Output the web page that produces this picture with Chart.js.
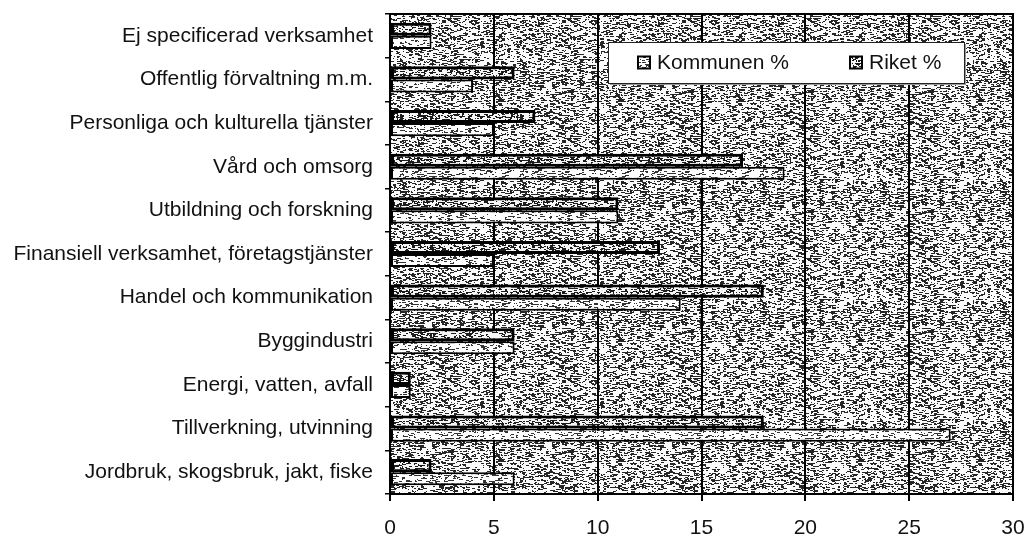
<!DOCTYPE html>
<html>
<head>
<meta charset="utf-8">
<script src="https://cdn.jsdelivr.net/npm/chart.js@4.4.1/dist/chart.umd.min.js"></script>
<style>
  html, body { margin:0; padding:0; background:#fff; }
  #wrap { width:1026px; height:536px; position:relative; }
</style>
</head>
<body>
<div id="wrap"><canvas id="chart"></canvas></div>
<script>
const categories = [
  'Ej specificerad verksamhet',
  'Offentlig förvaltning m.m.',
  'Personliga och kulturella tjänster',
  'Vård och omsorg',
  'Utbildning och forskning',
  'Finansiell verksamhet, företagstjänster',
  'Handel och kommunikation',
  'Byggindustri',
  'Energi, vatten, avfall',
  'Tillverkning, utvinning',
  'Jordbruk, skogsbruk, jakt, fiske'
];
const kommunenPct = [2, 4, 5, 19, 11, 5, 14, 6, 1, 27, 6];
const riketPct    = [2, 6, 7, 17, 11, 13, 18, 6, 1, 18, 2];
const xTicks = [0, 5, 10, 15, 20, 25, 30];

const FONT = "'Liberation Sans', Arial, sans-serif";
Chart.defaults.font.family = FONT;
Chart.defaults.color = '#111';

// speckled dash texture like the scanned print (deterministic hash, not data)
function makePattern(density, seed, dark, light){
  const S = 120;
  const c = document.createElement('canvas');
  c.width = S; c.height = S;
  const g = c.getContext('2d');
  g.fillStyle = light; g.fillRect(0,0,S,S);
  g.fillStyle = dark;
  for(let y=0;y<S;y++){
    for(let x=0;x<S;x+=3){
      let h = (x*374761393 + y*668265263 + seed*2246822519) >>> 0;
      h = Math.imul(h ^ (h >>> 13), 1274126177) >>> 0;
      h = (h ^ (h >>> 16)) >>> 0;
      if((h % 1000)/1000 < density){
        const len = 1 + (h >>> 11) % 4;
        g.fillRect(x + ((h >>> 5) % 2), y, len, 1);
      }
    }
  }
  return g.createPattern(c, 'repeat');
}

const ctx = document.getElementById('chart').getContext('2d');
const bgPattern = makePattern(0.47, 7, '#262626', '#fbfbfb');
const kommunenPattern = makePattern(0.28, 3, '#333', '#ffffff');
const riketPattern = makePattern(0.52, 11, '#1c1c1c', '#f6f6f6');

const plotBg = {
  id:'plotBg',
  beforeDraw(chart){
    const {ctx, chartArea:a} = chart;
    ctx.save();
    ctx.fillStyle = bgPattern;
    ctx.fillRect(a.left, a.top, a.right-a.left, a.bottom-a.top);
    ctx.restore();
  },
  afterDatasetsDraw(chart){
    const {ctx, chartArea:a} = chart;
    ctx.save();
    ctx.strokeStyle = '#000';
    ctx.lineWidth = 2;
    ctx.strokeRect(a.left, a.top, a.right-a.left, a.bottom-a.top);
    ctx.restore();
  }
};

const boxLegend = {
  id:'boxLegend',
  afterDraw(chart, args, opts){
    const {ctx} = chart;
    const x = opts.x, y = opts.y, w = opts.w, h = opts.h;
    ctx.save();
    ctx.fillStyle = '#999';
    ctx.fillRect(x+2, y+2, w, h);
    ctx.fillStyle = '#fff';
    ctx.fillRect(x, y, w, h);
    ctx.strokeStyle = '#222';
    ctx.lineWidth = 1;
    ctx.strokeRect(x+0.5, y+0.5, w, h);
    const items = [chart.data.datasets[1], chart.data.datasets[0]];
    ctx.font = "21px " + FONT;
    ctx.textBaseline = 'middle';
    items.forEach((ds, i) => {
      const ix = x + opts.itemX[i];
      const cy = y + h/2;
      ctx.fillStyle = ds.backgroundColor;
      ctx.fillRect(ix, cy-6, 12, 12);
      ctx.strokeStyle = '#000';
      ctx.lineWidth = 2;
      ctx.strokeRect(ix, cy-6, 12, 12);
      ctx.fillStyle = '#111';
      ctx.fillText(ds.label, ix + 19, cy + 1);
    });
    ctx.restore();
  }
};

new Chart(ctx, {
  type:'bar',
  data:{
    labels: categories,
    datasets:[
      { label:'Riket %', data:riketPct, backgroundColor:riketPattern, borderColor:'#000', borderWidth:3, borderSkipped:false },
      { label:'Kommunen %', data:kommunenPct, backgroundColor:kommunenPattern, borderColor:'#000', borderWidth:2, borderSkipped:false }
    ]
  },
  options:{
    indexAxis:'y',
    responsive:true,
    maintainAspectRatio:false,
    animation:false,
    layout:{ padding:{ top:14, right:13, left:0, bottom:0 } },
    datasets:{ bar:{ categoryPercentage:0.6, barPercentage:1.0 } },
    plugins:{
      legend:{ display:false },
      tooltip:{ enabled:false },
      boxLegend:{ x:608, y:42, w:356, h:41, itemX:[30, 242] }
    },
    scales:{
      x:{
        min:0, max:30,
        afterBuildTicks:(s) => { s.ticks = xTicks.map(v => ({ value:v })); },
        grid:{ color:'#000', lineWidth:2, drawTicks:true, tickLength:7, tickColor:'#000' },
        border:{ display:true, color:'#000', width:2 },
        ticks:{ font:{ size:21 }, color:'#111', padding:15, maxRotation:0 },
        afterFit:(s) => { s.height = 42; s.paddingLeft = 0; s.paddingRight = 0; }
      },
      y:{
        grid:{ drawOnChartArea:false, drawTicks:true, tickLength:5, color:'#000', lineWidth:1.5, offset:true },
        border:{ display:true, color:'#000', width:2 },
        ticks:{ font:{ size:21 }, color:'#111', padding:12, autoSkip:false },
        afterFit:(s) => { s.width = 390; s.paddingTop = 0; s.paddingBottom = 0; }
      }
    }
  },
  plugins:[plotBg, boxLegend]
});
</script>
</body>
</html>
